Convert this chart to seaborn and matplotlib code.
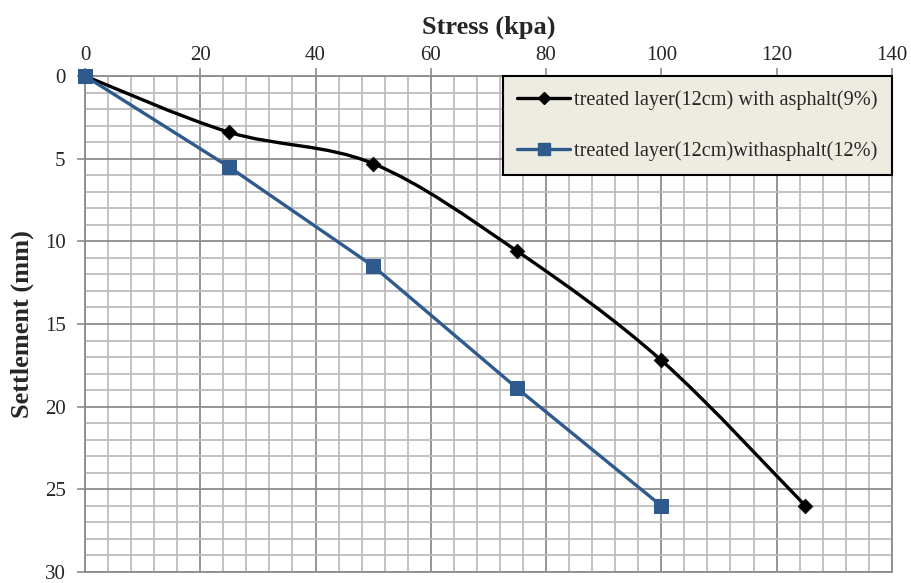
import numpy as np
import pandas as pd
import matplotlib
matplotlib.use("Agg")
import matplotlib.pyplot as plt
from matplotlib.path import Path
from matplotlib.patches import PathPatch
from matplotlib.lines import Line2D
from matplotlib.ticker import MultipleLocator
import seaborn as sns

# data
stress_9 = [0, 25, 50, 75, 100, 125]
settle_9 = [0, 3.4, 5.3, 10.6, 17.2, 26.0]
stress_12 = [0, 25, 50, 75, 100]
settle_12 = [0, 5.5, 11.5, 18.9, 26.0]
label_9 = "treated layer(12cm) with asphalt(9%)"
label_12 = "treated layer(12cm)withasphalt(12%)"

black = "#000000"
blue = "#2F5A8E"


def smooth_path(xs, ys):
    # Excel-style smoothed line as a cubic bezier through the points
    x = np.asarray(xs, float)
    y = np.asarray(ys, float)
    verts = [(x[0], y[0])]
    codes = [Path.MOVETO]
    n = len(x)
    for i in range(n - 1):
        p0 = (x[max(i - 1, 0)], y[max(i - 1, 0)])
        p1 = (x[i], y[i])
        p2 = (x[i + 1], y[i + 1])
        p3 = (x[min(i + 2, n - 1)], y[min(i + 2, n - 1)])
        c1 = (p1[0] + (p2[0] - p0[0]) / 6, p1[1] + (p2[1] - p0[1]) / 6)
        c2 = (p2[0] - (p3[0] - p1[0]) / 6, p2[1] - (p3[1] - p1[1]) / 6)
        verts += [c1, c2, p2]
        codes += [Path.CURVE4] * 3
    return Path(verts, codes)


sns.set_theme(style="white")
plt.rcParams["font.family"] = ["Liberation Serif", "DejaVu Serif"]

fig = plt.figure(figsize=(9.11, 5.83), dpi=100)
ax = fig.add_axes([0.0933, 0.019, 0.8857, 0.8506])

df9 = pd.DataFrame({"stress": stress_9, "settle": settle_9})
df12 = pd.DataFrame({"stress": stress_12, "settle": settle_12})

ax.add_patch(PathPatch(smooth_path(stress_9, settle_9), fill=False,
                       edgecolor=black, lw=2.4, zorder=3))
sns.scatterplot(data=df9, x="stress", y="settle", ax=ax, marker="D",
                s=55, color=black, edgecolor=black, zorder=4, clip_on=False)
sns.lineplot(data=df12, x="stress", y="settle", ax=ax, color=blue,
             lw=2.4, marker="s", markersize=10, markeredgecolor=blue,
             zorder=5, clip_on=False)

ax.set_xlim(0, 140)
ax.set_ylim(30, 0)
ax.xaxis.set_major_locator(MultipleLocator(20))
ax.xaxis.set_minor_locator(MultipleLocator(4))
ax.yaxis.set_major_locator(MultipleLocator(5))
ax.yaxis.set_minor_locator(MultipleLocator(1))
ax.xaxis.tick_top()
ax.xaxis.set_label_position("top")
ax.grid(which="major", color="#8c8c8c", lw=1.3, zorder=0)
ax.grid(which="minor", color="#bdbdbd", lw=1.3, zorder=0)
ax.set_axisbelow(True)
ax.tick_params(axis="both", which="major", length=6, width=1.2,
               color="#8c8c8c", labelsize=15, direction="out")
ax.tick_params(axis="x", which="major", top=True, bottom=False, pad=2)
ax.tick_params(axis="y", which="major", left=True, pad=8)
ax.tick_params(which="minor", length=0)
for s in ax.spines.values():
    s.set_color("#8c8c8c")
    s.set_linewidth(1.3)

ax.set_xlabel("Stress (kpa)", fontsize=19, fontweight="bold", labelpad=9)
ax.set_ylabel("Settlement (mm)", fontsize=19, fontweight="bold", labelpad=8)

handles = [
    Line2D([], [], color=black, lw=2.4, marker="D", markersize=6),
    Line2D([], [], color=blue, lw=2.4, marker="s", markersize=8),
]
leg = ax.legend(handles, [label_9, label_12], loc="upper right",
                bbox_to_anchor=(1.0, 1.0), fontsize=14.6, frameon=True,
                fancybox=False, borderpad=0.7, labelspacing=1.55,
                handlelength=2.6, handletextpad=0.2, borderaxespad=0.0)
leg.get_frame().set_facecolor("#EEEBE1")
leg.get_frame().set_edgecolor(black)
leg.get_frame().set_linewidth(1.5)
leg.get_frame().set_alpha(1.0)

fig.savefig("out.png", dpi=100)
